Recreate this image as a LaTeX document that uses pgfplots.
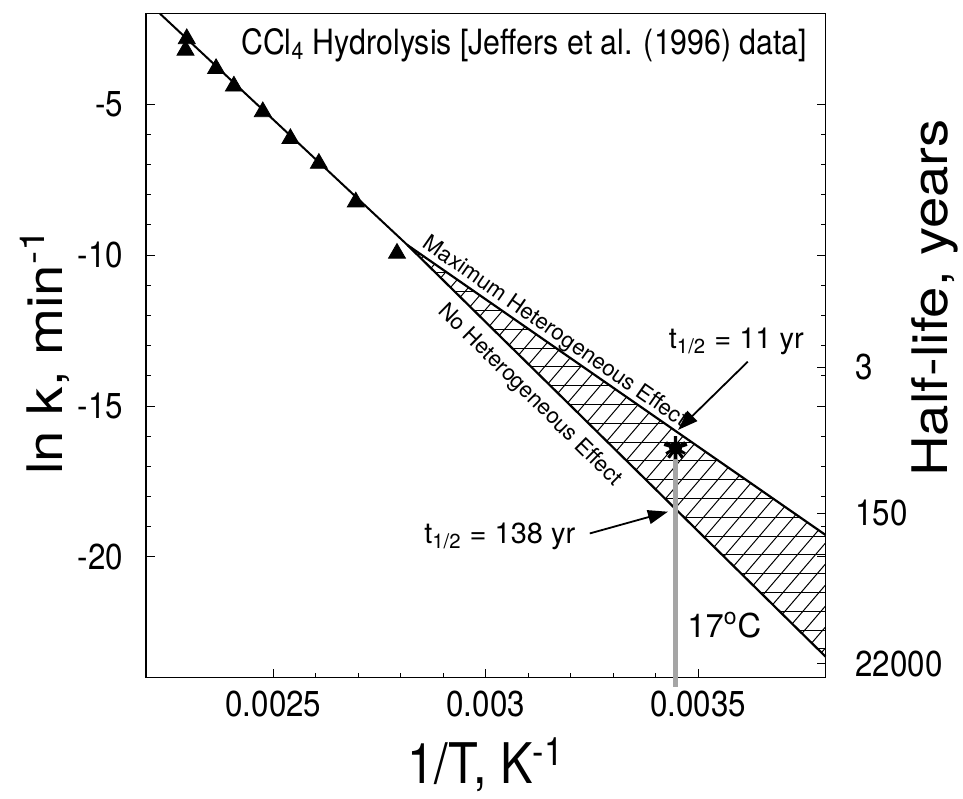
\documentclass[border=0pt]{standalone}
\usepackage{pgfplots}
\pgfplotsset{compat=1.18}
\usepackage{fontspec}
\setmainfont{TeX Gyre Heros}[FakeStretch=0.87]
\newfontfamily\annfont{TeX Gyre Heros}
\newfontfamily\rotfont{TeX Gyre Heros}[FakeStretch=1.15]
\usetikzlibrary{arrows.meta}
\definecolor{grayline}{RGB}{165,165,165}
\begin{document}
\begin{tikzpicture}
\useasboundingbox (-73pt,-60.15pt) rectangle (408.5pt,338.85pt);
\begin{axis}[
  scale only axis, width=339.75pt, height=332pt,
  xmin=0.0022, xmax=0.0038, ymin=-24, ymax=-2,
  scaled x ticks=false, scaled y ticks=false,
  xtick={0.0025,0.003,0.0035}, xticklabels={0.0025,0.003,0.0035},
  ytick={-5,-10,-15,-20}, yticklabels={-5,-10,-15,-20},
  minor x tick num=4, minor y tick num=4,
  tick align=inside, xtick pos=left, ytick pos=both,
  major tick length=4.5pt, minor tick length=2.5pt,
  tick style={black, line width=0.5pt},
  axis line style={line width=0.65pt},
  ticklabel style={font=\fontsize{18}{21}\selectfont},
  /pgf/number format/assume math mode=true,
  yticklabel style={xshift=-8pt},
  xticklabel style={yshift=-3pt},
  clip=false,
]
% hatched region between the two extrapolations (hatching clipped to the region)
\begin{scope}
\clip (axis cs:0.002816,-9.67) -- (axis cs:0.0038,-19.27) -- (axis cs:0.0038,-23.30) -- cycle;
\pgfplotsinvokeforeach{0,...,24}{%
  \draw[line width=0.5pt] ([yshift=#1*9.4pt+5pt]rel axis cs:0,0) -- ([yshift=#1*9.4pt+5pt]rel axis cs:1,0);
}
\pgfplotsinvokeforeach{0,...,56}{%
  \draw[line width=0.5pt] ([xshift=#1*9pt-150pt]rel axis cs:0,0) -- ++(230pt,268.3pt);
}
\end{scope}
% fitted line (data range)
\addplot[black, line width=1pt] coordinates {(0.002233,-2) (0.002816,-9.67)};
% maximum heterogeneous effect
\addplot[black, line width=1.1pt] coordinates {(0.002816,-9.67) (0.0038,-19.27)};
% no heterogeneous effect
\addplot[black, line width=1.1pt] coordinates {(0.002816,-9.67) (0.0038,-23.30)};
% Jeffers et al. data
\addplot[only marks, mark=triangle*, mark size=4.9pt, black] coordinates {
  (0.002296,-2.83) (0.002293,-3.21) (0.002365,-3.82) (0.002407,-4.40)
  (0.002475,-5.25) (0.002540,-6.14) (0.002607,-6.96) (0.002694,-8.24)
  (0.002791,-9.94)};
% 17 C line
\addplot[grayline, line width=2.5pt] coordinates {(0.003447,-24.3) (0.003447,-16.39)};
\addplot[only marks, mark=star, mark size=6pt, line width=1.6pt, black] coordinates {(0.003447,-16.39)};
\addplot[only marks, mark=asterisk, mark size=5.5pt, line width=1.4pt, black] coordinates {(0.003447,-16.39)};
\addplot[only marks, mark=*, mark size=3pt, black] coordinates {(0.003447,-16.39)};
% annotations
\node[anchor=east, inner sep=0pt, font=\fontsize{17.4}{20}\selectfont] at (axis cs:0.003758,-3.05)
  {CCl\textsubscript{4} Hydrolysis [Jeffers et al. (1996) data]};
\node[rotate=-34.8, anchor=south, inner sep=0.6pt, font=\annfont\fontsize{11.1}{13}\selectfont] at (axis cs:0.003146,-12.89)
  {Maximum Heterogeneous Effect};
\node[rotate=-44.6, anchor=north, inner sep=5.3pt, font=\annfont\fontsize{11.1}{13}\selectfont] at (axis cs:0.003139,-14.14)
  {No Heterogeneous Effect};
\node[font=\annfont\fontsize{14.5}{17}\selectfont] at (axis cs:0.00359,-12.87)
  {t\textsubscript{1/2} = 11 yr};
\draw[line width=0.9pt, -{Triangle[length=10pt,width=7pt]}] (axis cs:0.003617,-13.53) -- (axis cs:0.003453,-15.79);
\node[font=\annfont\fontsize{14.5}{17}\selectfont] at (axis cs:0.003033,-19.33)
  {t\textsubscript{1/2} = 138 yr};
\draw[line width=0.9pt, -{Triangle[length=10pt,width=7pt]}] (axis cs:0.003245,-19.22) -- (axis cs:0.003429,-18.50);
\node[font=\annfont\fontsize{16.4}{19}\selectfont] at (axis cs:0.003562,-22.25)
  {17\textsuperscript{o}C};
% right-hand half-life scale
\draw[line width=0.5pt] (axis cs:0.0038,-13.72) -- ++(-4.5pt,0pt);
\draw[line width=0.5pt] (axis cs:0.0038,-18.55) -- ++(-4.5pt,0pt);
\draw[line width=0.5pt] (axis cs:0.0038,-23.54) -- ++(-4.5pt,0pt);
\node[anchor=west, inner sep=0pt, font=\fontsize{18}{21}\selectfont] at ([xshift=14.75pt]axis cs:0.0038,-13.72) {3};
\node[anchor=west, inner sep=0pt, font=\fontsize{18}{21}\selectfont] at ([xshift=14.75pt]axis cs:0.0038,-18.55) {150};
\node[anchor=west, inner sep=0pt, font=\fontsize{18}{21}\selectfont] at ([xshift=14.75pt]axis cs:0.0038,-23.54) {22000};
% axis labels
\node[rotate=90, anchor=base, inner sep=0pt, font=\rotfont\fontsize{24.5}{28}\selectfont] at (rel axis cs:-0.1230,0.491)
  {ln k, min\textsuperscript{-1}};
\node[font=\fontsize{28}{32}\selectfont] at (rel axis cs:0.5,-0.1315)
  {1/T, K\textsuperscript{-1}};
\node[rotate=90, font=\rotfont\fontsize{24.5}{28}\selectfont] at (rel axis cs:1.161,0.572)
  {Half-life, years};
\end{axis}
\end{tikzpicture}
\end{document}
